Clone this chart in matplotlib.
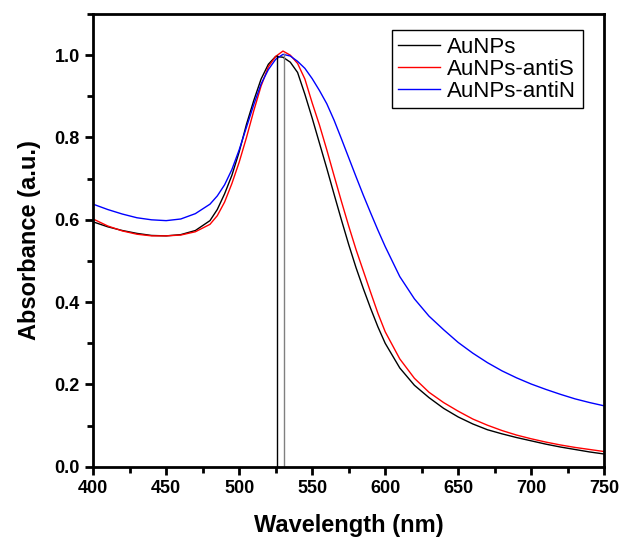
import matplotlib
matplotlib.use("Agg")
import matplotlib.pyplot as plt
from matplotlib.ticker import MultipleLocator

plt.rcParams['font.family'] = ['Liberation Sans', 'DejaVu Sans']

wavelength = [400, 410, 420, 430, 440, 450, 460, 470, 480,
              485, 490, 495, 500, 505, 510, 515, 520, 525, 530, 535, 540,
              545, 550, 555, 560, 565, 570, 575, 580, 585, 590, 595, 600,
              610, 620, 630, 640, 650, 660, 670, 680, 690, 700, 710, 720,
              730, 740, 750]

aunps = [0.595, 0.583, 0.574, 0.567, 0.562, 0.561, 0.564, 0.574, 0.598,
         0.625, 0.663, 0.708, 0.765, 0.832, 0.890, 0.942, 0.978, 0.997, 0.995, 0.983, 0.958,
         0.905, 0.847, 0.786, 0.725, 0.662, 0.600, 0.540, 0.484, 0.433, 0.385, 0.340, 0.300,
         0.240, 0.198, 0.168, 0.142, 0.121, 0.104, 0.090, 0.080, 0.071, 0.063, 0.055, 0.048,
         0.042, 0.036, 0.031]

aunps_antis = [0.602, 0.585, 0.573, 0.565, 0.561, 0.561, 0.563, 0.571, 0.589,
               0.610, 0.643, 0.688, 0.740, 0.800, 0.865, 0.925, 0.972, 0.997, 1.010, 1.000, 0.980,
               0.942, 0.884, 0.830, 0.770, 0.707, 0.645, 0.585, 0.528, 0.476, 0.424, 0.373, 0.328,
               0.262, 0.215, 0.181, 0.156, 0.135, 0.116, 0.101, 0.088, 0.077, 0.068, 0.060, 0.053,
               0.047, 0.042, 0.037]

aunps_antin = [0.638, 0.625, 0.614, 0.605, 0.600, 0.598, 0.602, 0.615, 0.638,
               0.658, 0.685, 0.722, 0.770, 0.825, 0.880, 0.930, 0.965, 0.990, 1.002, 0.998, 0.985,
               0.968, 0.943, 0.914, 0.882, 0.842, 0.797, 0.751, 0.705, 0.660, 0.617, 0.575, 0.535,
               0.462, 0.408, 0.366, 0.333, 0.302, 0.276, 0.253, 0.233, 0.216, 0.201, 0.188, 0.176,
               0.165, 0.156, 0.148]

# peak markers (drop lines)
peak_wl = [526.2, 530.6]
peak_abs = [1.0, 1.005]
peak_colors = ['black', 'grey']

fig = plt.figure(figsize=(6.21, 5.39), dpi=100)
ax = fig.add_axes([0.15, 0.134, 0.823, 0.84])

ax.plot(wavelength, aunps, color='black', lw=1.0, label='AuNPs')
ax.plot(wavelength, aunps_antis, color='red', lw=1.0, label='AuNPs-antiS')
ax.plot(wavelength, aunps_antin, color='blue', lw=1.0, label='AuNPs-antiN')
for w, a, c in zip(peak_wl, peak_abs, peak_colors):
    ax.vlines(w, 0, a, color=c, lw=1.0)

ax.set_xlim(400, 750)
ax.set_ylim(0, 1.1)
ax.xaxis.set_major_locator(MultipleLocator(50))
ax.xaxis.set_minor_locator(MultipleLocator(25))
ax.yaxis.set_major_locator(MultipleLocator(0.2))
ax.yaxis.set_minor_locator(MultipleLocator(0.1))
ax.tick_params(which='major', direction='out', length=6, width=2, labelsize=13)
ax.tick_params(which='minor', direction='out', length=4, width=2)
for lab in ax.get_xticklabels() + ax.get_yticklabels():
    lab.set_fontweight('bold')
for s in ax.spines.values():
    s.set_linewidth(2)

ax.set_xlabel('Wavelength (nm)', fontsize=17, fontweight='bold', labelpad=12)
ax.set_ylabel('Absorbance (a.u.)', fontsize=17, fontweight='bold', labelpad=10)

leg = ax.legend(loc='upper right', bbox_to_anchor=(0.958, 0.965), borderaxespad=0,
                fontsize=16, fancybox=False, edgecolor='black', framealpha=1,
                handlelength=1.9, labelspacing=0.05, borderpad=0.3, handletextpad=0.3)
leg.get_frame().set_linewidth(1.0)

fig.savefig('out.png', dpi=100)
